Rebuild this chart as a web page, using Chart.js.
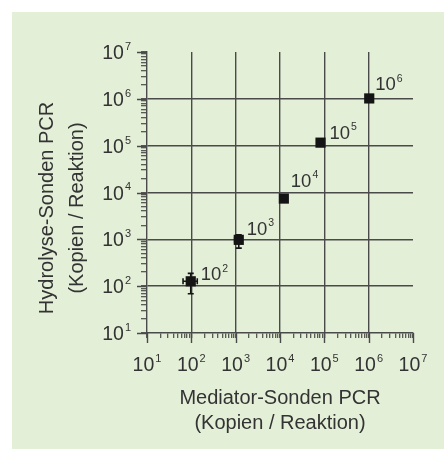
<!DOCTYPE html>
<html>
<head>
<meta charset="utf-8">
<script src="https://cdn.jsdelivr.net/npm/chart.js@4.4.1/dist/chart.umd.min.js"></script>
<style>
  html, body { margin: 0; padding: 0; background: #fff; }
</style>
</head>
<body>
<canvas id="chart" width="444" height="452"></canvas>
<script>
// Copies per reaction
const mediatorCopies = [97, 1175, 12200, 82000, 1030000];
const hydrolyseCopies = [127, 975, 7420, 116000, 1020000];

// Error bar ends (null = hidden under the marker)
const mediatorLow = [65, 950, null, null, null];
const mediatorHigh = [136, 1400, null, null, null];
const hydrolyseLow = [69, 650, null, null, null];
const hydrolyseHigh = [188, 1250, null, null, null];

// Nominal input 10^n written next to each point
const pointExponents = [2, 3, 4, 5, 6];

// Axis decades 10^1 ... 10^7
const tickExponents = [1, 2, 3, 4, 5, 6, 7];

const xTitle = ['Mediator-Sonden PCR', '(Kopien / Reaktion)'];
const yTitle = ['Hydrolyse-Sonden PCR', '(Kopien / Reaktion)'];

const textColor = '#333';
const lineColor = '#4a4a4a';
const markColor = '#141414';
const FONT = '"Liberation Sans", Arial, sans-serif';

const minVal = Math.pow(10, tickExponents[0]);
const maxVal = Math.pow(10, tickExponents[tickExponents.length - 1]);

// major decades plus 2..9 minor ticks
function buildTicks(scale) {
    const ticks = [];
    tickExponents.forEach((e, i) => {
        const base = Math.pow(10, e);
        ticks.push({ value: base, major: true });
        if (i < tickExponents.length - 1) {
            for (let m = 2; m <= 9; m++) ticks.push({ value: m * base, major: false });
        }
    });
    scale.ticks = ticks;
}

function isInnerDecade(v) {
    const e = Math.log10(v);
    return Math.abs(e - Math.round(e)) < 1e-9 && v > minVal && v < maxVal;
}

// draws "10" with a superscript exponent
function drawPow(ctx, x, y, exp, size, supSize, align) {
    ctx.font = size + 'px ' + FONT;
    const w1 = ctx.measureText('10').width;
    ctx.font = supSize + 'px ' + FONT;
    const w2 = ctx.measureText(String(exp)).width;
    const total = w1 + 1 + w2;
    let start = x;
    if (align === 'center') start = x - total / 2;
    if (align === 'right') start = x - total;
    ctx.textAlign = 'left';
    ctx.textBaseline = 'alphabetic';
    ctx.font = size + 'px ' + FONT;
    ctx.fillText('10', start, y);
    ctx.font = supSize + 'px ' + FONT;
    ctx.fillText(String(exp), start + w1 + 1, y - size * 0.47);
}

const backgroundPlugin = {
    id: 'background',
    beforeDraw(chart) {
        const ctx = chart.ctx;
        ctx.save();
        ctx.fillStyle = '#ffffff';
        ctx.fillRect(0, 0, chart.width, chart.height);
        ctx.fillStyle = '#e4efd8';
        ctx.fillRect(12, 12, chart.width - 12, chart.height - 15);
        ctx.restore();
    }
};

const axisDecorPlugin = {
    id: 'axisDecor',
    afterDraw(chart) {
        const ctx = chart.ctx;
        const x = chart.scales.x, y = chart.scales.y;
        const area = chart.chartArea;
        ctx.save();
        // longer ticks on the decades
        ctx.strokeStyle = lineColor;
        ctx.lineWidth = 1.4;
        ctx.beginPath();
        tickExponents.forEach(e => {
            const px = Math.round(x.getPixelForValue(Math.pow(10, e))) + 0.5;
            ctx.moveTo(px, area.bottom);
            ctx.lineTo(px, area.bottom + 10);
            const py = Math.round(y.getPixelForValue(Math.pow(10, e))) + 0.5;
            ctx.moveTo(area.left - 10, py);
            ctx.lineTo(area.left, py);
        });
        ctx.stroke();

        // tick labels
        ctx.fillStyle = textColor;
        tickExponents.forEach(e => {
            const v = Math.pow(10, e);
            drawPow(ctx, x.getPixelForValue(v), area.bottom + 38, e, 19.5, 11, 'center');
            drawPow(ctx, area.left - 16, y.getPixelForValue(v) + 7, e, 19.5, 11, 'right');
        });

        // y axis title, two rotated lines
        ctx.font = '20px ' + FONT;
        ctx.textAlign = 'center';
        ctx.textBaseline = 'middle';
        yTitle.forEach((line, i) => {
            ctx.save();
            ctx.translate(47 + i * 30, 208);
            ctx.rotate(-Math.PI / 2);
            ctx.fillText(line, 0, 0);
            ctx.restore();
        });
        ctx.restore();
    }
};

const errorBarPlugin = {
    id: 'errorBars',
    afterDatasetsDraw(chart) {
        const ctx = chart.ctx;
        const x = chart.scales.x, y = chart.scales.y;
        const cap = 3;
        ctx.save();
        ctx.strokeStyle = markColor;
        ctx.lineWidth = 1.6;
        mediatorCopies.forEach((mx, i) => {
            const px = x.getPixelForValue(mx);
            const py = y.getPixelForValue(hydrolyseCopies[i]);
            ctx.beginPath();
            if (hydrolyseLow[i] !== null) {
                const y1 = y.getPixelForValue(hydrolyseLow[i]);
                const y2 = y.getPixelForValue(hydrolyseHigh[i]);
                ctx.moveTo(px, y1); ctx.lineTo(px, y2);
                ctx.moveTo(px - cap, y1); ctx.lineTo(px + cap, y1);
                ctx.moveTo(px - cap, y2); ctx.lineTo(px + cap, y2);
            }
            if (mediatorLow[i] !== null) {
                const x1 = x.getPixelForValue(mediatorLow[i]);
                const x2 = x.getPixelForValue(mediatorHigh[i]);
                ctx.moveTo(x1, py); ctx.lineTo(x2, py);
                ctx.moveTo(x1, py - cap); ctx.lineTo(x1, py + cap);
                ctx.moveTo(x2, py - cap); ctx.lineTo(x2, py + cap);
            }
            ctx.stroke();
        });
        ctx.restore();
    }
};

const pointLabelPlugin = {
    id: 'pointLabels',
    afterDatasetsDraw(chart, args, opts) {
        const ctx = chart.ctx;
        const meta = chart.getDatasetMeta(0);
        ctx.save();
        ctx.fillStyle = textColor;
        meta.data.forEach((pt, i) => {
            const off = opts.offsets[i];
            drawPow(ctx, pt.x + off[0], pt.y + off[1], pointExponents[i], 18.5, 10.5, 'left');
        });
        ctx.restore();
    }
};

const points = mediatorCopies.map((v, i) => ({ x: v, y: hydrolyseCopies[i] }));

new Chart(document.getElementById('chart'), {
    type: 'scatter',
    data: {
        datasets: [{
            data: points,
            pointStyle: 'rect',
            pointRadius: 7.2,
            pointBackgroundColor: markColor,
            pointBorderColor: markColor,
            pointBorderWidth: 0
        }]
    },
    options: {
        responsive: false,
        animation: false,
        devicePixelRatio: 1,
        layout: { padding: { left: 0, top: 52, right: 31, bottom: 0 } },
        scales: {
            x: {
                type: 'logarithmic',
                position: 'bottom',
                min: minVal,
                max: maxVal,
                afterBuildTicks: buildTicks,
                afterFit: scale => { scale.height = 119; },
                ticks: { display: false },
                grid: {
                    color: c => isInnerDecade(c.tick.value) ? lineColor : 'rgba(0,0,0,0)',
                    lineWidth: 1.4,
                    drawTicks: true,
                    tickLength: 5,
                    tickColor: lineColor,
                    tickWidth: 1.2
                },
                border: { display: true, color: lineColor, width: 1.4 },
                title: {
                    display: true,
                    text: xTitle,
                    color: textColor,
                    font: { family: FONT, size: 20, lineHeight: 1.25 },
                    padding: { top: 0, bottom: 16 }
                }
            },
            y: {
                type: 'logarithmic',
                position: 'left',
                min: minVal,
                max: maxVal,
                afterBuildTicks: buildTicks,
                afterFit: scale => { scale.width = 147; },
                ticks: { display: false },
                grid: {
                    color: c => isInnerDecade(c.tick.value) ? lineColor : 'rgba(0,0,0,0)',
                    lineWidth: 1.4,
                    drawTicks: true,
                    tickLength: 6,
                    tickColor: lineColor,
                    tickWidth: 1.2
                },
                border: { display: true, color: lineColor, width: 1.4 }
            }
        },
        plugins: {
            legend: { display: false },
            tooltip: { enabled: false },
            pointLabels: { offsets: [[10, -1], [8, -5], [7, -12], [9, -4], [6, -8]] }
        }
    },
    plugins: [backgroundPlugin, errorBarPlugin, pointLabelPlugin, axisDecorPlugin]
});
</script>
</body>
</html>
